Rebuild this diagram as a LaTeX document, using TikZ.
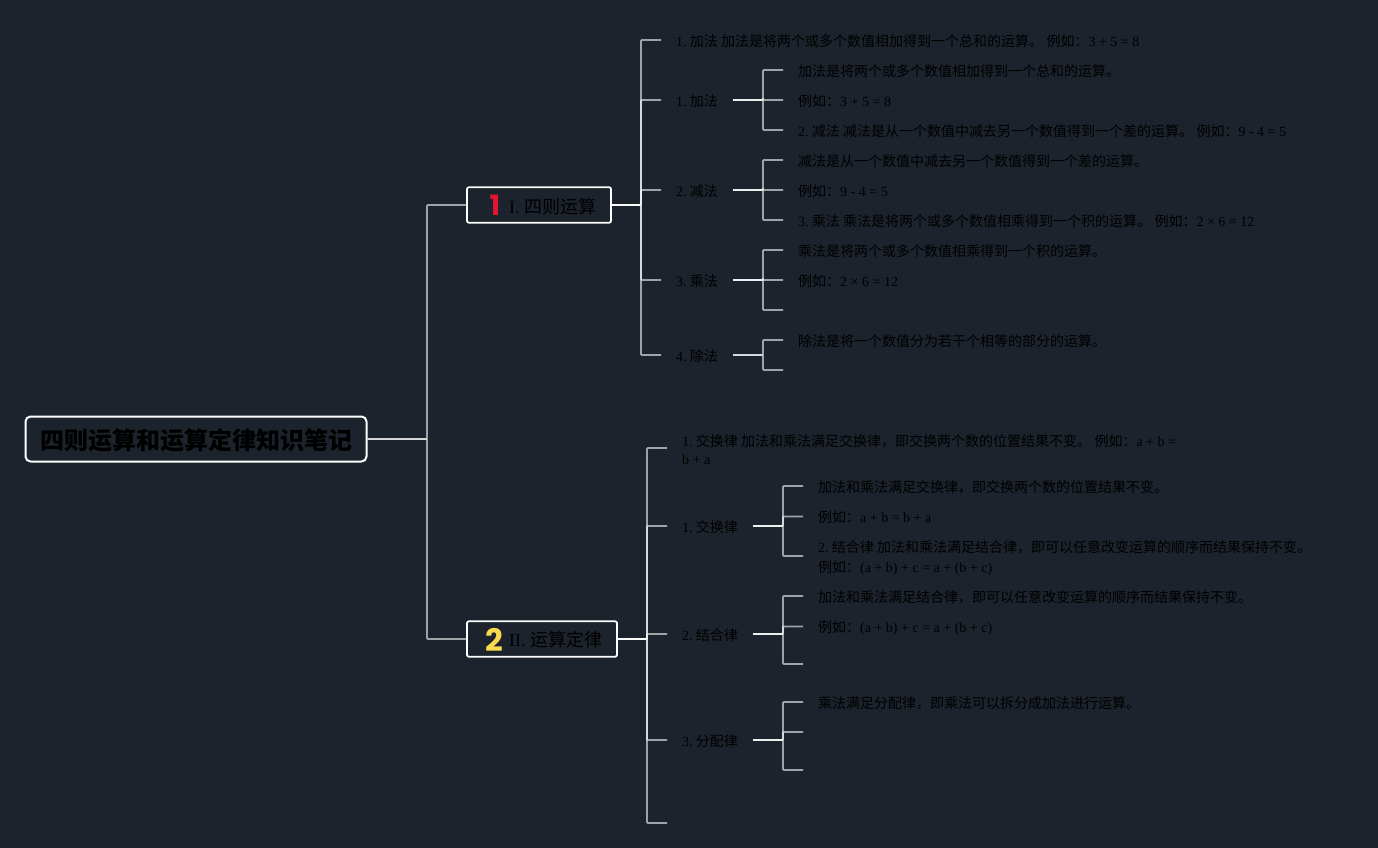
\documentclass[tikz,border=0pt]{standalone}
\usepackage{fontspec}
\setmainfont{Liberation Serif}
\newfontfamily\cjk{Noto Sans CJK SC}
\newfontfamily\iconf{Poppins}
\newcommand{\Z}[1]{{\cjk #1}}
\newcommand{\Pf}[1]{#1\hspace{3.2pt}}
\definecolor{bg}{HTML}{1C232C}
\definecolor{ink}{HTML}{000000}
\tikzset{
  x=1pt,y=-1pt,
  rootbox/.style={draw=white,line width=2pt,rounded corners=5pt,fill=bg,minimum width=341pt,minimum height=45pt,inner sep=0pt},
  roottext/.style={inner sep=0pt,font=\fontsize{24}{28}\selectfont\bfseries,text=ink},
  mainbox/.style={draw=white,line width=1.8pt,rounded corners=2pt,fill=bg,minimum height=35.5pt,inner sep=0pt},
  maintext/.style={anchor=west,inner sep=0pt,font=\fontsize{18}{22}\selectfont,text=ink},
  icontext/.style={inner sep=0pt,font=\iconf\bfseries\fontsize{#1}{#1}\selectfont},
  tn/.style={anchor=west,inner xsep=15pt,inner ysep=0pt,text height=14pt,text depth=1.2pt,font=\fontsize{14}{18}\selectfont,text=ink},
  ml/.style={anchor=west,inner xsep=15pt,inner ysep=0pt,align=left,font=\fontsize{14}{20}\selectfont,text=ink},
  limb/.style={draw=white,draw opacity=0.58,line width=1.8pt,rounded corners=1pt}
}
\begin{document}
\begin{tikzpicture}
\useasboundingbox (0,0) rectangle (1378,848);
\fill[bg] (0,0) rectangle (1378,848);

% boxes
\node[rootbox] (root) at (196,439) {};
\node[roottext] (roottxt) at (196,440) {\Z{四则运算和运算定律知识笔记}};
\node[mainbox,minimum width=144pt] (A) at (539,205) {};
\node[mainbox,minimum width=150pt] (B) at (542,639) {};
\node[maintext] (Atxt) at (509,206.2) {I. \Z{四则运算}};
\node[maintext] (Btxt) at (509,640) {II. \Z{运算定律}};
\node[icontext=28,text={rgb,255:red,226;green,20;blue,50}] (Aicon) at (495,205.5) {1};
\node[icontext=31,text={rgb,255:red,247;green,218;blue,80}] (Bicon) at (494.3,639.5) {2};

% junctions
\coordinate (r) at (427,439);
\coordinate (ja) at (641,205);
\coordinate (jb) at (647,639);
\draw[limb] (root.east) -- (r) |- (A.west);
\draw[limb] (root.east) -- (r) |- (B.west);

% level 2, group A
\node[tn] (a1) at (661,40) {\Pf{1.}\Z{加法 加法是将两个或多个数值相加得到一个总和的运算。} \Z{例如：}3 + 5 = 8};
\node[tn] (a2) at (661,100) {\Pf{1.}\Z{加法}};
\node[tn] (a3) at (661,190) {\Pf{2.}\Z{减法}};
\node[tn] (a4) at (661,280) {\Pf{3.}\Z{乘法}};
\node[tn] (a5) at (661,355) {\Pf{4.}\Z{除法}};
\foreach \n in {a1,a2,a3,a4,a5} \draw[limb] (A.east) -- (ja) |- (\n.west);
\coordinate (a2j) at (763,100);
\coordinate (a3j) at (763,190);
\coordinate (a4j) at (763,280);
\coordinate (a5j) at (763,355);
\coordinate (a2s) at (733,100);
\coordinate (a3s) at (733,190);
\coordinate (a4s) at (733,280);
\coordinate (a5s) at (733,355);

\node[tn] (a21) at (783,70) {\Z{加法是将两个或多个数值相加得到一个总和的运算。}};
\node[tn] (a22) at (783,100) {\Z{例如：}3 + 5 = 8};
\node[tn] (a23) at (783,130) {\Pf{2.}\Z{减法 减法是从一个数值中减去另一个数值得到一个差的运算。} \Z{例如：}9 - 4 = 5};
\node[tn] (a31) at (783,160) {\Z{减法是从一个数值中减去另一个数值得到一个差的运算。}};
\node[tn] (a32) at (783,190) {\Z{例如：}9 - 4 = 5};
\node[tn] (a33) at (783,220) {\Pf{3.}\Z{乘法 乘法是将两个或多个数值相乘得到一个积的运算。} \Z{例如：}2 × 6 = 12};
\node[tn] (a41) at (783,250) {\Z{乘法是将两个或多个数值相乘得到一个积的运算。}};
\node[tn] (a42) at (783,280) {\Z{例如：}2 × 6 = 12};
\coordinate (a43) at (783,310);
\node[tn] (a51) at (783,340) {\Z{除法是将一个数值分为若干个相等的部分的运算。}};
\coordinate (a52) at (783,370);
\foreach \n in {a21,a22,a23} \draw[limb] (a2s) -- (a2j) |- (\n.west);
\foreach \n in {a31,a32,a33} \draw[limb] (a3s) -- (a3j) |- (\n.west);
\foreach \n in {a41,a42} \draw[limb] (a4s) -- (a4j) |- (\n.west);
\draw[limb] (a4s) -- (a4j) |- (a43);
\draw[limb] (a5s) -- (a5j) |- (a51.west);
\draw[limb] (a5s) -- (a5j) |- (a52);

% level 2, group B
\node[ml] (b1) at (667,450) {\Pf{1.}\Z{交换律 加法和乘法满足交换律，即交换两个数的位置结果不变。} \Z{例如：}a + b =\\[-2pt] b + a};
\coordinate (b1e) at (667,448);
\node[tn] (b2) at (667,526) {\Pf{1.}\Z{交换律}};
\node[tn] (b3) at (667,634) {\Pf{2.}\Z{结合律}};
\node[tn] (b4) at (667,740) {\Pf{3.}\Z{分配律}};
\coordinate (b5) at (667,823);
\draw[limb] (B.east) -- (jb) |- (b1e);
\foreach \n in {b2,b3,b4} \draw[limb] (B.east) -- (jb) |- (\n.west);
\draw[limb] (B.east) -- (jb) |- (b5);
\coordinate (b2j) at (783,526);
\coordinate (b3j) at (783,634);
\coordinate (b4j) at (783,740);
\coordinate (b2s) at (753,526);
\coordinate (b3s) at (753,634);
\coordinate (b4s) at (753,740);

\node[tn] (b21) at (803,486) {\Z{加法和乘法满足交换律，即交换两个数的位置结果不变。}};
\node[tn] (b22) at (803,516.5) {\Z{例如：}a + b = b + a};
\node[ml] (b23) at (803,558) {\Pf{2.}\Z{结合律 加法和乘法满足结合律，即可以任意改变运算的顺序而结果保持不变。}\\ \Z{例如：}(a + b) + c = a + (b + c)};
\coordinate (b23e) at (803,556);
\node[tn] (b31) at (803,596) {\Z{加法和乘法满足结合律，即可以任意改变运算的顺序而结果保持不变。}};
\node[tn] (b32) at (803,626.5) {\Z{例如：}(a + b) + c = a + (b + c)};
\coordinate (b33) at (803,664);
\node[tn] (b41) at (803,702) {\Z{乘法满足分配律，即乘法可以拆分成加法进行运算。}};
\coordinate (b42) at (803,732);
\coordinate (b43) at (803,770);
\draw[limb] (b2s) -- (b2j) |- (b21.west);
\draw[limb] (b2s) -- (b2j) |- (b22.west);
\draw[limb] (b2s) -- (b2j) |- (b23e);
\draw[limb] (b3s) -- (b3j) |- (b31.west);
\draw[limb] (b3s) -- (b3j) |- (b32.west);
\draw[limb] (b3s) -- (b3j) |- (b33);
\draw[limb] (b4s) -- (b4j) |- (b41.west);
\draw[limb] (b4s) -- (b4j) |- (b42);
\draw[limb] (b4s) -- (b4j) |- (b43);
\end{tikzpicture}
\end{document}
